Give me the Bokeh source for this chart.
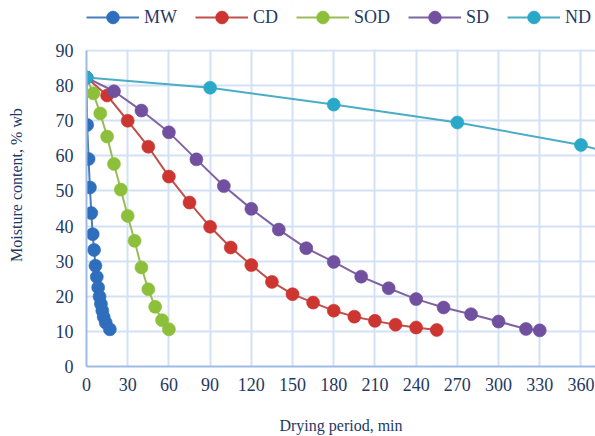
from bokeh.plotting import figure
from bokeh.models import Range1d, Legend, LegendItem, FixedTicker, BoxAnnotation
from bokeh.embed import file_html
from bokeh.resources import INLINE

# ---- data ----
mw_t = [0, 0.5, 1.5, 2.5, 3.5, 4.5, 5.5, 6.5, 7.5, 8.5, 9.5, 10.5, 11.5, 12.5, 14, 17]
mw_mc = [82.3, 68.8, 59.1, 51.0, 43.7, 37.7, 33.2, 28.7, 25.5, 22.5, 19.9, 17.8, 15.9, 14.1, 12.5, 10.6]

cd_t = [0, 15, 30, 45, 60, 75, 90, 105, 120, 135, 150, 165, 180, 195, 210, 225, 240, 255]
cd_mc = [82.3, 77.2, 70.0, 62.6, 54.1, 46.7, 39.8, 33.9, 28.9, 24.1, 20.6, 18.2, 15.9, 14.2, 13.0, 11.9, 11.1, 10.4]

sod_t = [0, 5, 10, 15, 20, 25, 30, 35, 40, 45, 50, 55, 60]
sod_mc = [82.3, 77.8, 72.1, 65.5, 57.7, 50.4, 42.9, 35.8, 28.2, 22.0, 17.0, 13.2, 10.6]

sd_t = [0, 20, 40, 60, 80, 100, 120, 140, 160, 180, 200, 220, 240, 260, 280, 300, 320, 330]
sd_mc = [82.3, 78.4, 72.9, 66.7, 59.0, 51.4, 44.9, 39.0, 33.7, 29.8, 25.6, 22.3, 19.2, 16.8, 14.9, 12.8, 10.7, 10.3]

nd_t = [0, 90, 180, 270, 360, 450]
nd_mc = [82.3, 79.4, 74.6, 69.5, 63.1, 53.7]

x_ticks = [0, 30, 60, 90, 120, 150, 180, 210, 240, 270, 300, 330, 360]
y_ticks = [0, 10, 20, 30, 40, 50, 60, 70, 80, 90]

series = [
    ("MW", mw_t, mw_mc, "#4A7EBB", "#2F6EBD"),
    ("CD", cd_t, cd_mc, "#C0504D", "#CC3530"),
    ("SOD", sod_t, sod_mc, "#9BBB59", "#8CBF3A"),
    ("SD", sd_t, sd_mc, "#8064A2", "#7150A0"),
    ("ND", nd_t, nd_mc, "#4BACC6", "#2AA8C8"),
]

FONT = "Liberation Serif"
TXT = "#1F3864"

# the frame is extended above 90 to host the legend; the area above 90 is blanked
p = figure(width=595, height=436, output_backend="svg", toolbar_location=None,
           x_range=Range1d(0, 370.6), y_range=Range1d(0, 103.4),
           min_border_left=86, min_border_top=3, min_border_bottom=70, min_border_right=0)
p.outline_line_color = None
p.background_fill_color = "white"
p.border_fill_color = "white"

items = []
for name, t, mc, lc, mcol in series:
    r1 = p.line(t, mc, line_color=lc, line_width=2)
    r2 = p.scatter(t, mc, size=13, fill_color=mcol, line_color=mcol, line_alpha=0.6, line_width=1)
    items.append(LegendItem(label=name, renderers=[r1, r2]))

p.add_layout(BoxAnnotation(bottom=y_ticks[-1] + 0.3, fill_color="white", fill_alpha=1.0,
                           line_color=None))

# axes
for ax in (p.xaxis[0], p.yaxis[0]):
    ax.axis_line_color = "#9DBBE3"
    ax.axis_line_width = 2
    ax.major_tick_line_color = None
    ax.minor_tick_line_color = None
    ax.major_label_text_font = FONT
    ax.major_label_text_font_size = "18px"
    ax.major_label_text_color = TXT
    ax.axis_label_text_font = FONT
    ax.axis_label_text_font_size = "16px"
    ax.axis_label_text_font_style = "normal"
    ax.axis_label_text_color = TXT

p.yaxis[0].bounds = (y_ticks[0], y_ticks[-1])
p.xaxis[0].ticker = FixedTicker(ticks=x_ticks)
p.yaxis[0].ticker = FixedTicker(ticks=y_ticks)
p.xaxis[0].axis_label = "Drying period, min"
p.yaxis[0].axis_label = "Moisture content, % wb"
p.xaxis[0].major_label_standoff = 5
p.yaxis[0].major_label_standoff = 7
p.xaxis[0].axis_label_standoff = 23
p.yaxis[0].axis_label_standoff = 28

p.xgrid[0].ticker = FixedTicker(ticks=x_ticks)
p.ygrid[0].ticker = FixedTicker(ticks=y_ticks)
for g in (p.xgrid[0], p.ygrid[0]):
    g.grid_line_color = "#D3E1F4"
    g.grid_line_width = 2

legend = Legend(items=items, orientation="horizontal", location=(0, 333),
                glyph_width=53, glyph_height=32, label_standoff=5, spacing=18,
                padding=0, margin=0, border_line_color=None, background_fill_alpha=0,
                label_text_font=FONT, label_text_font_size="18px", label_text_color=TXT)
p.add_layout(legend, "center")

open("out.html", "w").write(file_html(p, INLINE))
